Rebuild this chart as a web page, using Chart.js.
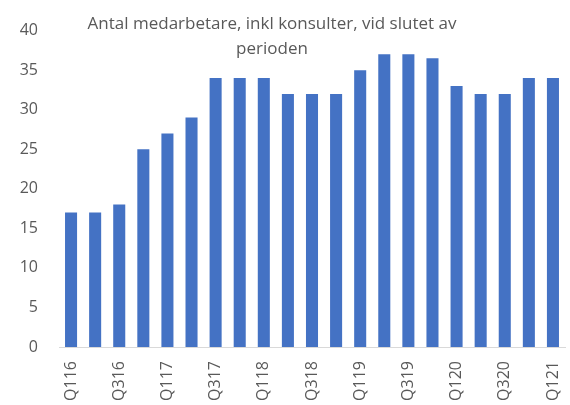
<!DOCTYPE html>
<html>
<head>
<meta charset="utf-8">
<script src="https://cdn.jsdelivr.net/npm/chart.js@4/dist/chart.umd.min.js"></script>
<style>
html,body{margin:0;padding:0;background:#fff;overflow:hidden;}
#wrap{width:570px;height:405px;position:relative;}
canvas{display:block;}
</style>
</head>
<body>
<div id="wrap"><canvas id="c" width="570" height="405"></canvas></div>
<script>
const titleLines = ["Antal medarbetare, inkl konsulter, vid slutet av", "perioden"];
const categories = ["Q116","Q216","Q316","Q416","Q117","Q217","Q317","Q417","Q118","Q218","Q318","Q418","Q119","Q219","Q319","Q419","Q120","Q220","Q320","Q420","Q121"];
const employees = [17,17,18,25,27,29,34,34,34,32,32,32,35,37,37,36.5,33,32,32,34,34];
const yMin = 0, yMax = 40, yStep = 5;

const FONT = "'Open Sans', 'Liberation Sans', sans-serif";
const GREY = "#595959";

const overlayTitle = {
  id: 'overlayTitle',
  afterDraw(chart) {
    const ctx = chart.ctx;
    ctx.save();
    ctx.fillStyle = GREY;
    ctx.font = "17px " + FONT;
    ctx.textAlign = 'center';
    ctx.textBaseline = 'alphabetic';
    ctx.fillText(titleLines[0], 272, 29);
    ctx.fillText(titleLines[1], 272, 54);
    ctx.restore();
  }
};

new Chart(document.getElementById('c'), {
  type: 'bar',
  data: {
    labels: categories,
    datasets: [{
      data: employees,
      backgroundColor: '#4472C4',
      borderWidth: 0,
      barPercentage: 0.5,
      categoryPercentage: 1.0
    }]
  },
  options: {
    responsive: false,
    animation: false,
    layout: { padding: { left: 0, right: 5, top: 20, bottom: 0 } },
    plugins: { legend: { display: false }, title: { display: false }, tooltip: { enabled: false } },
    scales: {
      x: {
        grid: { display: false, drawTicks: false },
        border: { display: true, color: '#D9D9D9', width: 1 },
        ticks: {
          autoSkip: false,
          maxRotation: 90,
          minRotation: 90,
          padding: 14,
          color: GREY,
          font: { family: FONT, size: 16 },
          callback: function(v, i) { return i % 2 === 0 ? categories[i] : ''; }
        },
        afterFit: function(s) { s.height = 58; s.paddingLeft = 0; s.paddingRight = 0; }
      },
      y: {
        min: yMin, max: yMax,
        grid: { display: false, drawTicks: false },
        border: { display: false },
        ticks: {
          stepSize: yStep,
          padding: 21,
          color: GREY,
          font: { family: FONT, size: 16 }
        },
        afterFit: function(s) { s.width = 59; }
      }
    }
  },
  plugins: [overlayTitle]
});
</script>
</body>
</html>
